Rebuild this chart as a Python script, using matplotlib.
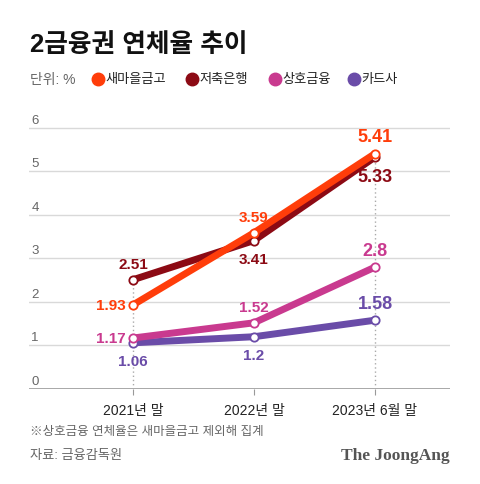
import matplotlib.pyplot as plt
from matplotlib.lines import Line2D
from matplotlib import transforms

plt.rcParams['font.family'] = ['Liberation Sans', 'Noto Sans CJK KR', 'DejaVu Sans']

periods = ['2021년 말', '2022년 말', '2023년 6월 말']
series_names = ['새마을금고', '저축은행', '상호금융', '카드사']
saemaeul = [1.93, 3.59, 5.41]
savings_bank = [2.51, 3.41, 5.33]
mutual = [1.17, 1.52, 2.8]
card = [1.06, 1.2, 1.58]
yticks = [0, 1, 2, 3, 4, 5, 6]

colors = ['#ff3d0a', '#8c0a14', '#c93a8f', '#6a4ca8']
values = [saemaeul, savings_bank, mutual, card]
# label placement per point: 'a' above, 'b' below, 'l' left
places = [['l', 'a', 'a'], ['a', 'b', 'b'], ['l', 'a', 'a'], ['b', 'b', 'a']]

fig = plt.figure(figsize=(4.8, 4.85), dpi=100)
ax = fig.add_axes([0.06, 0.196, 0.8775, 0.592])
x = list(range(len(periods)))
ax.set_xlim(-0.86, 2.62)
ax.set_ylim(0, 6.6)

for t in yticks[1:]:
    ax.axhline(t, color='#d9d9d9', lw=1, zorder=0)
ax.axhline(0, color='#999999', lw=1.2, zorder=0)
blend = transforms.blended_transform_factory(ax.transAxes, ax.transData)
for t in yticks:
    ax.text(0.006, t + 0.05, str(t), transform=blend, fontsize=9.5,
            color='#666666', va='bottom', ha='left')

# dotted guides at first and last period
for i in [0, 2]:
    top = max(v[i] for v in values)
    ax.plot([x[i], x[i]], [0, top], color='#aaaaaa', lw=1, ls=(0, (1, 2)), zorder=1)

order = [3, 2, 1, 0]
for k in order:
    ax.plot(x, values[k], color=colors[k], lw=5, solid_capstyle='butt', zorder=2 + (3 - k),
            marker='o', markersize=6, markerfacecolor='white',
            markeredgecolor=colors[k], markeredgewidth=1.3)

for k in range(4):
    for i, v in enumerate(values[k]):
        fs = 13 if i == 2 else 11
        p = places[k][i]
        if p == 'a':
            ax.annotate(f'{v:g}', (x[i], v), xytext=(0, 6), textcoords='offset points',
                        ha='center', va='bottom', fontsize=fs, fontweight='bold', color=colors[k])
        elif p == 'b':
            ax.annotate(f'{v:g}', (x[i], v), xytext=(0, -8), textcoords='offset points',
                        ha='center', va='top', fontsize=fs, fontweight='bold', color=colors[k])
        else:
            ax.annotate(f'{v:g}', (x[i], v), xytext=(-5, 0), textcoords='offset points',
                        ha='right', va='center', fontsize=fs, fontweight='bold', color=colors[k])

ax.set_xticks(x)
ax.set_xticklabels(periods, fontsize=10, color='#222222')
ax.tick_params(axis='x', length=4, color='#999999', pad=6)
ax.set_yticks([])
for s in ax.spines.values():
    s.set_visible(False)

fig.text(0.0625, 0.907, '2금융권 연체율 추이', fontsize=18.5, fontweight='heavy', color='#111111',
         va='center', ha='left')
fig.text(0.0625, 0.835, '단위: %', fontsize=10, color='#666666', va='center', ha='left')
leg_x = [0.204, 0.4, 0.573, 0.737]
for k, name in enumerate(series_names):
    fig.add_artist(Line2D([leg_x[k]], [0.836], marker='o', markersize=9, color=colors[k],
                          transform=fig.transFigure))
    fig.text(leg_x[k] + 0.016, 0.835, name, fontsize=9.5, color='#222222', va='center', ha='left')

fig.text(0.0625, 0.109, '※상호금융 연체율은 새마을금고 제외해 집계', fontsize=9, color='#666666',
         va='center', ha='left')
fig.text(0.0625, 0.06, '자료: 금융감독원', fontsize=9.5, color='#666666', va='center', ha='left')
fig.text(0.9375, 0.06, 'The JoongAng', fontsize=12.5, fontweight='bold', color='#555555',
         family='Liberation Serif', va='center', ha='right')

fig.savefig('out.png', dpi=100, facecolor='white')
